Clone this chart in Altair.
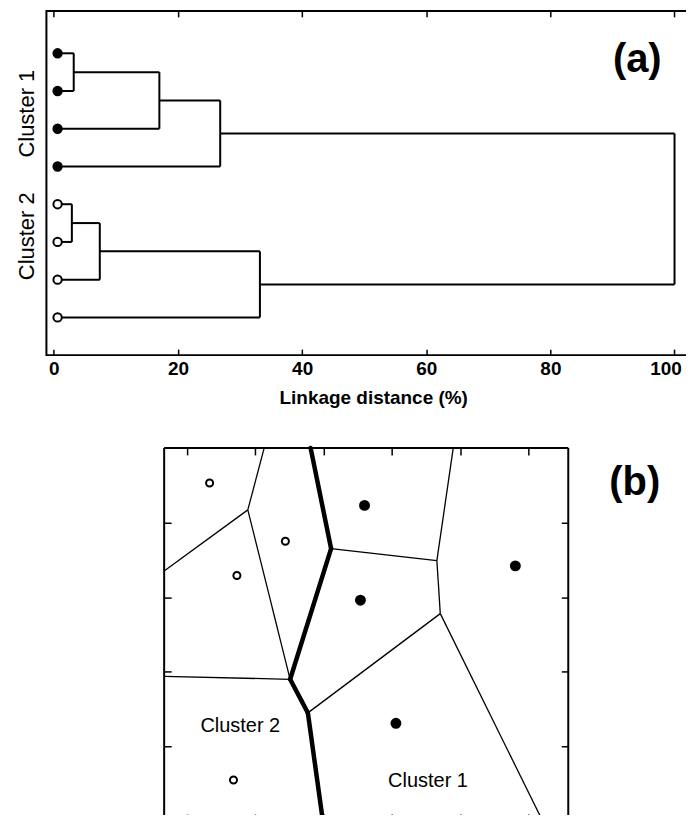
import altair as alt
import pandas as pd

FONT = "Liberation Sans"

# ---------------- Panel (a): dendrogram data ----------------
leaf_names = ["L1", "L2", "L3", "L4", "L5", "L6", "L7", "L8"]
leaf_rank = [1, 2, 3, 4, 5, 6, 7, 8]
leaf_cluster = ["Cluster 1"] * 4 + ["Cluster 2"] * 4
leaf_distance = [0.6] * 8
merge_names = ["M1", "M2", "M3", "M4", "M5", "M6", "M7"]
merge_left = ["L1", "M1", "M2", "L5", "M4", "M5", "M3"]
merge_right = ["L2", "L3", "L4", "L6", "L7", "L8", "M6"]
merge_height = [3.2, 17.0, 26.8, 2.9, 7.4, 33.2, 100.0]
dist_ticks = [0, 20, 40, 60, 80, 100]
a_label_text = ["Cluster 1", "Cluster 2"]
a_label_x = [-4.4, -4.4]
a_label_y = [2.6, 5.85]

# ---------------- Panel (b): Voronoi data ----------------
site_x = [1.33, 2.44, 1.73, 1.68, 3.60, 5.81, 3.54, 4.06]
site_y = [4.53, 3.75, 3.29, 0.55, 4.23, 3.42, 2.96, 1.31]
site_cluster = ["Cluster 2"] * 4 + ["Cluster 1"] * 4
vert_names = ["A", "B", "C", "D", "E", "F", "G", "H", "I", "J", "K", "L", "M"]
vert_x = [2.13, 1.89, 0.664, 2.51, 0.664, 2.81, 3.11, 2.77, 2.99, 4.66, 4.90, 4.71, 6.21]
vert_y = [5.0, 4.17, 3.35, 1.90, 1.94, 5.0, 3.65, 1.45, 0.0, 3.49, 5.0, 2.78, 0.0]
thin_edges = [("A", "B"), ("B", "C"), ("B", "D"), ("E", "D"), ("G", "J"),
              ("J", "K"), ("J", "L"), ("L", "H"), ("L", "M")]
thick_edges = [("F", "G"), ("G", "D"), ("D", "H"), ("H", "I")]
b_xticks = [1, 2, 3, 4, 5, 6]
b_yticks = [1, 2, 3, 4]
b_box_x = [0.664, 6.585]
b_box_y = [0.0, 5.0]
b_label_text = ["Cluster 2", "Cluster 1"]
b_label_x = [1.78, 4.53]
b_label_y = [1.27, 0.535]

# ---------------- Build panel (a) ----------------
pos = {n: (d, r) for n, d, r in zip(leaf_names, leaf_distance, leaf_rank)}
segs = []
for name, l, r, h in zip(merge_names, merge_left, merge_right, merge_height):
    (xl, yl), (xr, yr) = pos[l], pos[r]
    segs.append(dict(x=xl, x2=h, y=yl, y2=yl))
    segs.append(dict(x=xr, x2=h, y=yr, y2=yr))
    segs.append(dict(x=h, x2=h, y=yl, y2=yr))
    pos[name] = (h, (yl + yr) / 2)
seg_df = pd.DataFrame(segs)
leaf_df = pd.DataFrame({"x": leaf_distance, "y": leaf_rank, "cluster": leaf_cluster})
a_lab_df = pd.DataFrame({"x": a_label_x, "y": a_label_y, "t": a_label_text})
a_tag_df = pd.DataFrame({"x": [94.0], "y": [1.19], "t": ["(a)"]})

xA = alt.Scale(domain=[-1.2, 104.1], nice=False, zero=False)
yA = alt.Scale(domain=[-0.124, 9.0], reverse=True, nice=False, zero=False)

axis_bottom_a = alt.Axis(orient="bottom", values=dist_ticks, offset=-6, tickSize=6,
                         tickWidth=1.5, tickColor="black", domain=False, grid=False,
                         labelFont=FONT, labelFontSize=19, labelFontWeight="bold",
                         labelColor="black", labelPadding=4, labelFlush=False,
                         labelOffset={"condition": {"test": "datum.value == 100", "value": -9},
                                      "value": 0},
                         title="Linkage distance (%)", titleFont=FONT, titleFontSize=19,
                         titleFontWeight="bold", titleColor="black", titlePadding=10)
axis_top_a = alt.Axis(orient="top", values=dist_ticks, offset=-6, tickSize=6,
                      tickWidth=1.5, tickColor="black", domain=False, grid=False,
                      labels=False, title=None)

a_lines = alt.Chart(seg_df).mark_rule(color="black", strokeWidth=2).encode(
    x=alt.X("x:Q", scale=xA, axis=axis_bottom_a),
    x2="x2:Q",
    y=alt.Y("y:Q", scale=yA, axis=None),
    y2="y2:Q",
)
a_points = alt.Chart(leaf_df).mark_point(shape="circle", filled=True, size=70,
                                         stroke="black", strokeWidth=2, opacity=1).encode(
    x=alt.X("x:Q", scale=xA, axis=axis_top_a),
    y=alt.Y("y:Q", scale=yA, axis=None),
    fill=alt.Fill("cluster:N", scale=alt.Scale(domain=["Cluster 1", "Cluster 2"],
                                                range=["black", "white"]), legend=None),
)
a_labels = alt.Chart(a_lab_df).mark_text(angle=270, font=FONT, fontSize=22,
                                         color="black", clip=False).encode(
    x=alt.X("x:Q", scale=xA, axis=None),
    y=alt.Y("y:Q", scale=yA, axis=None),
    text="t:N",
)
a_tag = alt.Chart(a_tag_df).mark_text(font=FONT, fontSize=40, fontWeight="bold",
                                      color="black").encode(
    x=alt.X("x:Q", scale=xA, axis=None),
    y=alt.Y("y:Q", scale=yA, axis=None),
    text="t:N",
)
panel_a = alt.layer(a_lines, a_points, a_labels, a_tag).resolve_axis(
    x="independent").properties(width=655, height=345)

# ---------------- Build panel (b) ----------------
vx = dict(zip(vert_names, vert_x))
vy = dict(zip(vert_names, vert_y))
thin_df = pd.DataFrame([dict(x=vx[a], y=vy[a], x2=vx[b], y2=vy[b]) for a, b in thin_edges])
thick_df = pd.DataFrame([dict(x=vx[a], y=vy[a], x2=vx[b], y2=vy[b]) for a, b in thick_edges])
site_df = pd.DataFrame({"x": site_x, "y": site_y, "cluster": site_cluster})
b_lab_df = pd.DataFrame({"x": b_label_x, "y": b_label_y, "t": b_label_text})
b_tag_df = pd.DataFrame({"x": [7.56], "y": [4.53], "t": ["(b)"]})
(bx0, bx1), (by0, by1) = b_box_x, b_box_y
frame_df = pd.DataFrame([
    dict(x=bx0, x2=bx0, y=by0, y2=by1),
    dict(x=bx1, x2=bx1, y=by0, y2=by1),
    dict(x=bx0, x2=bx1, y=by1, y2=by1),
    dict(x=bx0, x2=bx1, y=by0, y2=by0),
])

xB = alt.Scale(domain=[-1.061, 6.585], nice=False, zero=False)
yB = alt.Scale(domain=[0, 5], nice=False, zero=False)


def tick_axis(orient, values, offset=-7):
    return alt.Axis(orient=orient, values=values, offset=offset, tickSize=7, tickWidth=1.5,
                    tickColor="black", domain=False, grid=False, labels=False, title=None)


b_thin = alt.Chart(thin_df).mark_rule(color="black", strokeWidth=1.3).encode(
    x=alt.X("x:Q", scale=xB, axis=tick_axis("bottom", b_xticks)),
    x2="x2:Q",
    y=alt.Y("y:Q", scale=yB, axis=tick_axis("left", b_yticks, offset=-125)),
    y2="y2:Q",
)
b_thick = alt.Chart(thick_df).mark_rule(color="black", strokeWidth=4.5,
                                        strokeCap="round").encode(
    x=alt.X("x:Q", scale=xB, axis=tick_axis("top", b_xticks)),
    x2="x2:Q",
    y=alt.Y("y:Q", scale=yB, axis=tick_axis("right", b_yticks)),
    y2="y2:Q",
)
b_frame = alt.Chart(frame_df).mark_rule(color="black", strokeWidth=2).encode(
    x=alt.X("x:Q", scale=xB, axis=None),
    x2="x2:Q",
    y=alt.Y("y:Q", scale=yB, axis=None),
    y2="y2:Q",
)
b_sites = alt.Chart(site_df).mark_point(shape="circle", filled=True, opacity=1,
                                        stroke="black", strokeWidth=2).encode(
    x=alt.X("x:Q", scale=xB, axis=None),
    y=alt.Y("y:Q", scale=yB, axis=None),
    fill=alt.Fill("cluster:N", scale=alt.Scale(domain=["Cluster 1", "Cluster 2"],
                                                range=["black", "white"]), legend=None),
    size=alt.Size("cluster:N", scale=alt.Scale(domain=["Cluster 1", "Cluster 2"],
                                                range=[80, 50]), legend=None),
)
b_labels = alt.Chart(b_lab_df).mark_text(font=FONT, fontSize=20, color="black").encode(
    x=alt.X("x:Q", scale=xB, axis=None),
    y=alt.Y("y:Q", scale=yB, axis=None),
    text="t:N",
)
b_tag = alt.Chart(b_tag_df).mark_text(font=FONT, fontSize=40, fontWeight="bold",
                                      color="black").encode(
    x=alt.X("x:Q", scale=xB, axis=None),
    y=alt.Y("y:Q", scale=yB, axis=None),
    text="t:N",
)
panel_b = alt.layer(b_thin, b_thick, b_frame, b_sites, b_labels, b_tag).resolve_axis(
    x="independent", y="independent").properties(
    width=523, height=374, view=alt.ViewBackground(stroke="transparent"))

chart = alt.concat(panel_a, panel_b, columns=1, spacing=36).properties(
    padding={"left": 6.5, "top": 0, "right": -15, "bottom": -11}
).configure(background="white").configure_view(stroke="black", strokeWidth=2)

chart.save("out.html", embed_options={"renderer": "svg", "actions": False})
